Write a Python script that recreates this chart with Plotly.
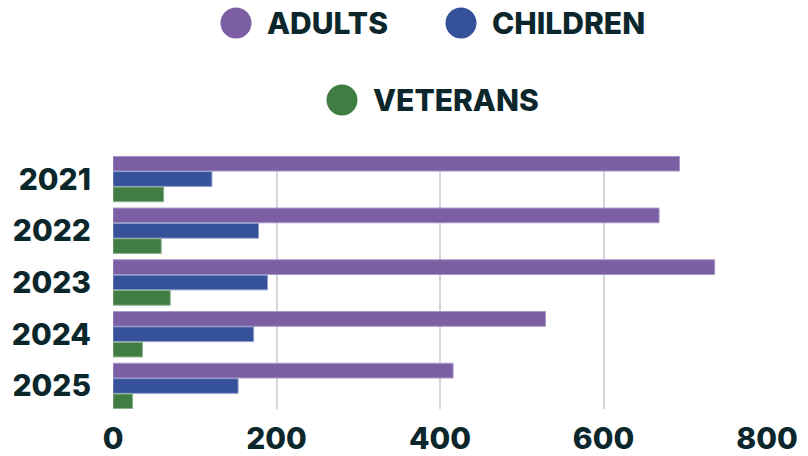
import plotly.graph_objects as go

years = ["2021", "2022", "2023", "2024", "2025"]
adults = [693, 668, 736, 529, 416]
children = [121, 178, 189, 172, 153]
veterans = [62, 59, 70, 36, 24]
series_names = ["ADULTS", "CHILDREN", "VETERANS"]
x_ticks = [0, 200, 400, 600, 800]

colors = ["#7b5ea4", "#34519a", "#3f7d42"]
edge = ["#a898c6", "#8e9ccb", "#8fb492"]
text_color = "#0b272c"
FONT = "Inter"

W, H = 808, 456
L, R, T, B = 113, 767, 156, 409

fig = go.Figure()
for name, vals, c, e in zip(series_names, [adults, children, veterans], colors, edge):
    fig.add_trace(go.Bar(
        y=years, x=vals, name=name, orientation="h",
        marker=dict(color=c, line=dict(color=e, width=1)),
        showlegend=False, hoverinfo="x+name",
    ))

# custom legend (large circles), positions in pixels
legend_pos = [(236, 23), (461, 23), (342, 100)]
shapes = []
annotations = []
for (cx, cy), name, c in zip(legend_pos, series_names, colors):
    px = (cx - L) / (R - L)
    py = (B - cy) / (B - T)
    shapes.append(dict(
        type="circle", xref="paper", yref="paper",
        xsizemode="pixel", ysizemode="pixel",
        xanchor=px, yanchor=py,
        x0=-15.5, x1=15.5, y0=-15.5, y1=15.5,
        fillcolor=c, line=dict(width=0),
    ))
    annotations.append(dict(
        xref="paper", yref="paper",
        x=(cx + 29 - L) / (R - L), y=py,
        xanchor="left", yanchor="middle", showarrow=False,
        text=name, font=dict(family=FONT, size=30, color=text_color, weight=800),
    ))

fig.update_layout(
    width=W, height=H,
    margin=dict(l=L, r=W - R, t=T, b=H - B, autoexpand=False),
    paper_bgcolor="white", plot_bgcolor="white",
    barmode="group", bargap=0.11, bargroupgap=0.04,
    shapes=shapes, annotations=annotations,
    font=dict(family=FONT, color=text_color),
)
fig.update_xaxes(
    range=[0, 800], tickvals=x_ticks, ticktext=[str(v) for v in x_ticks],
    showgrid=True, gridcolor="#d3d7db", gridwidth=1.5, zeroline=False,
    showline=False, ticks="outside", ticklen=3, tickcolor="rgba(0,0,0,0)",
    automargin=False,
    tickfont=dict(family=FONT, size=30, color=text_color, weight=800),
)
fig.update_yaxes(
    range=[4.445, -0.445], showgrid=False, zeroline=False, showline=False,
    ticks="outside", ticklen=15, tickcolor="rgba(0,0,0,0)",
    automargin=False,
    tickfont=dict(family=FONT, size=30, color=text_color, weight=800),
)
fig.write_html(
    "out.html",
    config={"displayModeBar": False},
    post_script="document.body.style.margin='0';document.body.style.overflow='hidden';",
)
